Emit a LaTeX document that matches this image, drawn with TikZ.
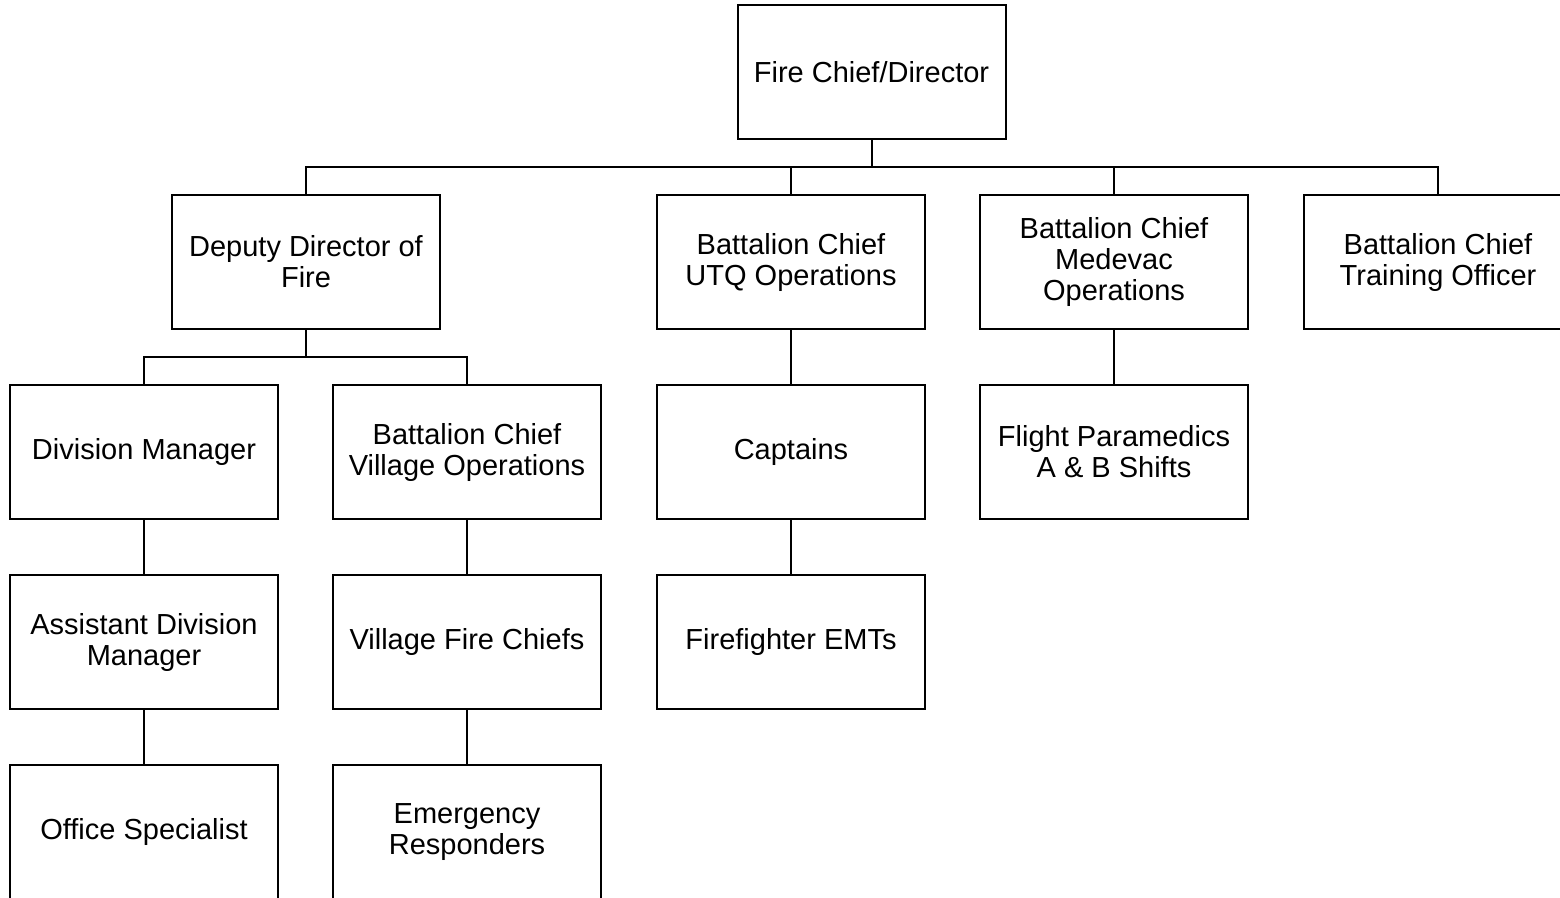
\documentclass[tikz,border=0pt]{standalone}
\usepackage{fontspec}
\setmainfont{Liberation Sans}
\usetikzlibrary{calc}

\begin{document}
\begin{tikzpicture}[x=1pt,y=-1pt,
  post/.style={draw,line width=2pt,minimum width=268pt,minimum height=134pt,
    inner sep=0pt,align=center,font=\fontsize{29}{31}\selectfont},
  link/.style={line width=2pt}]
\useasboundingbox (0,0) rectangle (1560,897);
% top
\node[post] (chief) at (871.5,72) {Fire Chief/Director};
% second row
\node[post] (deputy) at (306,262) {Deputy Director of\\Fire};
\node[post] (utq) at (791,262) {Battalion Chief\\UTQ Operations};
\node[post] (medevac) at (1114,262) {Battalion Chief\\Medevac\\Operations};
\node[post] (training) at (1438,262) {Battalion Chief\\Training Officer};
% third row
\node[post] (divmgr) at (144,452) {Division Manager};
\node[post] (village) at (467,452) {Battalion Chief\\Village Operations};
\node[post] (captains) at (791,452) {Captains};
\node[post] (flight) at (1114,452) {Flight Paramedics\\A \& B Shifts};
% fourth row
\node[post] (asstdiv) at (144,642) {Assistant Division\\Manager};
\node[post] (vfc) at (467,642) {Village Fire Chiefs};
\node[post] (emt) at (791,642) {Firefighter EMTs};
% fifth row
\node[post] (office) at (144,832) {Office Specialist};
\node[post] (emresp) at (467,832) {Emergency\\Responders};
% buses
\coordinate (bus1) at (871.5,167);
\coordinate (bus2) at (306,357);
\draw[link] (chief.south) -- (bus1);
\foreach \n in {deputy,utq,medevac,training} {\draw[link] (\n.north) |- (bus1);}
\draw[link] (deputy.south) -- (bus2);
\foreach \n in {divmgr,village} {\draw[link] (\n.north) |- (bus2);}
% chains
\draw[link] (utq) -- (captains);
\draw[link] (captains) -- (emt);
\draw[link] (medevac) -- (flight);
\draw[link] (divmgr) -- (asstdiv);
\draw[link] (asstdiv) -- (office);
\draw[link] (village) -- (vfc);
\draw[link] (vfc) -- (emresp);
\end{tikzpicture}
\end{document}
